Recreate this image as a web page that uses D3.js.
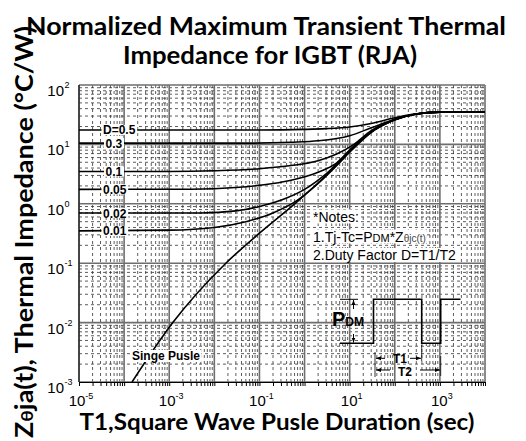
<!DOCTYPE html>
<html>
<head>
<meta charset="utf-8">
<script src="https://cdn.jsdelivr.net/npm/d3@7"></script>
<style>
  body { margin: 0; background: #fff; }
  svg { display: block; }
  .title { font-family: Lato, "Open Sans", sans-serif; font-weight: bold; fill: #000; }
  .tick-label { font-family: "Liberation Sans", Arial, sans-serif; fill: #000; }
  .curve-label { font-family: "Liberation Sans", Arial, sans-serif; font-weight: bold; font-size: 12px; }
  .note { font-family: "Liberation Sans", Arial, sans-serif; font-size: 14px; }
</style>
</head>
<body>
<div id="chart"></div>
<script>
var w = 526,
    h = 441;

// axis decades
var xExponents = [-5, -3, -1, 1, 3],
    yExponents = [-3, -2, -1, 0, 1, 2];

// curve labels (duty factor)
var dutyLabels = ["D=0.5", "0.3", "0.1", "0.05", "0.02", "0.01"];

// curves: [pulse duration (s), Z (degC/W)]
var d05 = [[1e-5, 17.5], [0.1, 17.5], [1, 17.9], [3, 18.4], [10, 19.6], [30, 22.5], [100, 28], [250, 32], [700, 34.8], [1e4, 35]];
var d03 = [[1e-5, 10.5], [0.05, 10.5], [0.5, 10.9], [2, 11.5], [10, 14], [30, 19], [100, 26.5], [300, 32.5], [1000, 35], [1e4, 35]];
var d01 = [[1e-5, 3.5], [1e-3, 3.5], [0.01, 3.6], [0.1, 3.9], [0.5, 4.4], [2, 5.3], [5, 6.8], [12, 9.8], [30, 17], [100, 26.2], [300, 32.5], [1000, 35], [1e4, 35]];
var d005 = [[1e-5, 1.75], [3e-3, 1.76], [0.03, 1.88], [0.2, 2.2], [0.5, 2.5], [2, 3.4], [5, 4.8], [12, 9.2], [30, 16.5], [100, 26], [300, 32.5], [1000, 35], [1e4, 35]];
var d002 = [[1e-5, 0.7], [5e-3, 0.7], [0.03, 0.76], [0.1, 0.9], [0.4, 1.25], [1, 1.75], [3, 3.2], [12, 8.8], [30, 16.2], [100, 26], [300, 32.5], [1000, 35], [1e4, 35]];
var d001 = [[1e-5, 0.35], [1e-3, 0.36], [0.01, 0.4], [0.05, 0.5], [0.2, 0.7], [0.7, 1.15], [2, 2.2], [5, 4.3], [12, 8.6], [30, 16], [100, 26], [300, 32.5], [1000, 35], [1e4, 35]];
var singlePulse = [[1.5e-4, 0.001], [1.2e-3, 0.01], [0.018, 0.1], [0.1, 0.32], [0.7, 1.1], [3, 3.0], [12, 8.5], [30, 16], [100, 26], [300, 32.5], [1000, 35], [1e4, 35]];

var dutyCurves = [d05, d03, d01, d005, d002, d001];

// plot box
var margin = {left: 79, right: 41, top: 85, bottom: 59};

var svg = d3.select("#chart").append("svg")
    .attr("width", w)
    .attr("height", h);

var x = d3.scaleLog()
    .domain([1e-5, 1e4])
    .range([margin.left, w - margin.right]);

var y = d3.scaleLog()
    .domain([1e-3, 1e2])
    .range([h - margin.bottom, margin.top]);

function isMajor(v) {
    return Math.abs(Math.log10(v) - Math.round(Math.log10(v))) < 1e-6;
}

// grid
var grid = svg.append("g");
var xt = x.ticks(),
    yt = y.ticks();

grid.selectAll(".xminor")
    .data(xt.filter(function(d) { return !isMajor(d); }))
    .enter().append("line")
    .attr("x1", function(d) { return x(d); })
    .attr("x2", function(d) { return x(d); })
    .attr("y1", y(1e2))
    .attr("y2", y(1e-3))
    .attr("stroke", "#333")
    .attr("stroke-width", 0.8)
    .attr("stroke-dasharray", "3,3");

grid.selectAll(".yminor")
    .data(yt.filter(function(d) { return !isMajor(d); }))
    .enter().append("line")
    .attr("x1", x(1e-5))
    .attr("x2", x(1e4))
    .attr("y1", function(d) { return y(d); })
    .attr("y2", function(d) { return y(d); })
    .attr("stroke", "#333")
    .attr("stroke-width", 0.8)
    .attr("stroke-dasharray", "3,3");

grid.selectAll(".xmajor")
    .data(xt.filter(isMajor))
    .enter().append("line")
    .attr("x1", function(d) { return x(d); })
    .attr("x2", function(d) { return x(d); })
    .attr("y1", y(1e2))
    .attr("y2", y(1e-3))
    .attr("stroke", "#6e6e6e")
    .attr("stroke-width", 1.6);

grid.selectAll(".ymajor")
    .data(yt.filter(isMajor))
    .enter().append("line")
    .attr("x1", x(1e-5))
    .attr("x2", x(1e4))
    .attr("y1", function(d) { return y(d); })
    .attr("y2", function(d) { return y(d); })
    .attr("stroke", "#6e6e6e")
    .attr("stroke-width", 1.6);

// axes
svg.append("g")
    .attr("transform", "translate(0," + y(1e-3) + ")")
    .call(d3.axisBottom(x).tickSizeOuter(0).tickSize(4).tickFormat(""))
    .call(function(g) {
        g.select(".domain").attr("stroke", "#000");
        g.selectAll("text").remove();
    });

svg.append("line")
    .attr("x1", x(1e-5)).attr("x2", x(1e-5))
    .attr("y1", y(1e2)).attr("y2", y(1e-3))
    .attr("stroke", "#000").attr("stroke-width", 1);

// x tick labels
xExponents.forEach(function(e) {
    var t = svg.append("text")
        .attr("class", "tick-label")
        .attr("x", x(Math.pow(10, e)) + 2)
        .attr("y", 406)
        .attr("text-anchor", "middle")
        .style("font-size", "15px");
    t.append("tspan").text("10");
    t.append("tspan").attr("dy", -7).style("font-size", "9px").text(e);
});

// y tick labels
yExponents.forEach(function(e) {
    var yy = y(Math.pow(10, e));
    var t = svg.append("text")
        .attr("class", "tick-label")
        .attr("x", 64)
        .attr("y", yy + 11)
        .style("font-size", "15px");
    t.append("tspan").attr("text-anchor", "end").text("10");
    t.append("tspan").attr("x", 64.5).attr("dy", -8).style("font-size", "9px").text(e);
});

// curves
svg.append("clipPath").attr("id", "plotclip")
    .append("rect")
    .attr("x", x(1e-5)).attr("y", y(1e2))
    .attr("width", x(1e4) - x(1e-5))
    .attr("height", y(1e-3) - y(1e2));

var line = d3.line()
    .x(function(d) { return x(d[0]); })
    .y(function(d) { return y(d[1]); })
    .curve(d3.curveMonotoneX);

var curves = svg.append("g").attr("clip-path", "url(#plotclip)");

dutyCurves.concat([singlePulse]).forEach(function(c) {
    curves.append("path")
        .attr("d", line(c))
        .attr("fill", "none")
        .attr("stroke", "#000")
        .attr("stroke-width", 1.6);
});

// duty labels with white backing that breaks the curve
dutyLabels.forEach(function(lbl, i) {
    var yy = y(dutyCurves[i][0][1]);
    var g = svg.append("g");
    var t = g.append("text")
        .attr("class", "curve-label")
        .attr("x", i === 0 || i > 2 ? 103 : 105.5)
        .attr("y", yy + 4.5)
        .text(lbl);
    var bb = t.node().getBBox();
    g.insert("rect", "text")
        .attr("x", bb.x - 1.5)
        .attr("y", yy - 5)
        .attr("width", bb.width + 3)
        .attr("height", 10)
        .attr("fill", "#fff");
});

// single pulse label
(function() {
    var g = svg.append("g");
    var t = g.append("text")
        .attr("class", "curve-label")
        .attr("x", 132)
        .attr("y", 360)
        .text("Singe Pusle");
    var bb = t.node().getBBox();
    g.insert("rect", "text")
        .attr("x", bb.x - 1).attr("y", bb.y + 1)
        .attr("width", bb.width + 2).attr("height", bb.height - 2)
        .attr("fill", "#fff");
})();

// notes
function note(yb, build) {
    var g = svg.append("g");
    var t = g.append("text").attr("class", "note").attr("x", 313).attr("y", yb);
    build(t);
    var bb = t.node().getBBox();
    g.insert("rect", "text")
        .attr("x", bb.x - 1).attr("y", bb.y + 1)
        .attr("width", bb.width + 2).attr("height", bb.height - 2)
        .attr("fill", "#fff");
}
note(221.5, function(t) { t.text("*Notes:"); });
note(241.5, function(t) {
    t.append("tspan").text("1.Tj-Tc=P");
    t.append("tspan").style("font-size", "11px").text("DM");
    t.append("tspan").text("*Z");
    t.append("tspan").style("font-size", "10px").attr("fill", "#444").text("\u03b8jc(t)");
});
note(260, function(t) { t.text("2.Duty Factor D=T1/T2"); });

// pulse sketch
var pulse = svg.append("g").attr("fill", "none").attr("stroke", "#000");
pulse.append("path")
    .attr("d", "M340,343.3H373.5V299.3H421.7V343.3H440.7V299.3H460.5")
    .attr("stroke-width", 1.6);
pulse.append("line").attr("x1", 340).attr("x2", 358).attr("y1", 299.3).attr("y2", 299.3).attr("stroke-width", 1);

var defs = svg.append("defs");
defs.append("marker")
    .attr("id", "arr")
    .attr("viewBox", "0 0 10 10")
    .attr("refX", 10).attr("refY", 5)
    .attr("markerWidth", 5).attr("markerHeight", 5)
    .attr("orient", "auto")
    .append("path").attr("d", "M0,1L10,5L0,9Z").attr("fill", "#000");

function arrow(x1, y1, x2, y2) {
    svg.append("line")
        .attr("x1", x1).attr("y1", y1).attr("x2", x2).attr("y2", y2)
        .attr("stroke", "#000").attr("stroke-width", 1)
        .attr("marker-end", "url(#arr)");
}
arrow(353.5, 309, 353.5, 300);
arrow(353.5, 334, 353.5, 342.5);
arrow(385, 358.3, 376, 358.3);
arrow(410, 358.3, 421, 358.3);
arrow(390, 370, 376, 370);
arrow(420, 370, 440, 370);

// guide lines for T1 / T2
[[375, 352, 377], [421.7, 345, 361], [440.7, 356, 376]].forEach(function(v) {
    svg.append("line")
        .attr("x1", v[0]).attr("x2", v[0]).attr("y1", v[1]).attr("y2", v[2])
        .attr("stroke", "#000").attr("stroke-width", 0.8);
});

svg.append("text").attr("class", "curve-label").attr("x", 400).attr("y", 363)
    .attr("text-anchor", "middle").text("T1");
svg.append("text").attr("class", "curve-label").attr("x", 405).attr("y", 375.5)
    .attr("text-anchor", "middle").text("T2");

var pdm = svg.append("text")
    .attr("font-family", "Liberation Sans, Arial, sans-serif")
    .attr("font-weight", "bold")
    .attr("x", 332).attr("y", 326);
pdm.append("tspan").style("font-size", "20px").text("P");
pdm.append("tspan").style("font-size", "12px").text("DM");

// titles
svg.append("text").attr("class", "title")
    .attr("x", 266).attr("y", 35)
    .attr("text-anchor", "middle")
    .attr("textLength", 480).attr("lengthAdjust", "spacingAndGlyphs")
    .style("font-size", "25px")
    .text("Normalized Maximum Transient Thermal");

svg.append("text").attr("class", "title")
    .attr("x", 270).attr("y", 63.5)
    .attr("text-anchor", "middle")
    .attr("textLength", 294).attr("lengthAdjust", "spacingAndGlyphs")
    .style("font-size", "25px")
    .text("Impedance for IGBT (RJA)");

svg.append("text").attr("class", "title")
    .attr("x", 277).attr("y", 430)
    .attr("text-anchor", "middle")
    .attr("textLength", 395).attr("lengthAdjust", "spacingAndGlyphs")
    .style("font-size", "22px")
    .text("T1,Square Wave Pusle Duration (sec)");

var yt2 = svg.append("text").attr("class", "title")
    .attr("transform", "translate(33,232) rotate(-90)")
    .attr("text-anchor", "middle")
    .attr("textLength", 412).attr("lengthAdjust", "spacingAndGlyphs")
    .style("font-size", "24px");
yt2.append("tspan").text("Z");
yt2.append("tspan").style("font-size", "17px").text("\u03b8");
yt2.append("tspan").text("ja(t), Thermal Impedance (\u00b0C/W)");
</script>
</body>
</html>
